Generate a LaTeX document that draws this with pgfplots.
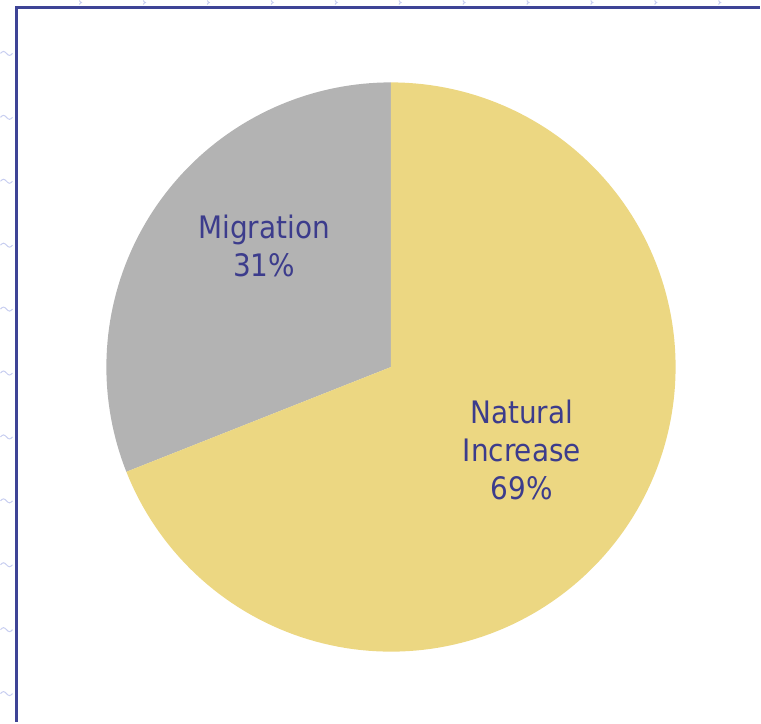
\documentclass[border=0pt]{standalone}
\usepackage{pgfplots}
\usepackage{pgfplotstable}
\pgfplotsset{compat=1.18}
\usepackage{fontspec}
\setmainfont{DejaVu Sans Condensed}
\definecolor{natcol}{RGB}{236,215,130}
\definecolor{migcol}{RGB}{179,179,179}
\definecolor{txtcol}{RGB}{60,60,140}
\definecolor{framecol}{RGB}{62,68,150}
\definecolor{wavecol}{RGB}{200,206,240}
\pgfplotstableread{
label value
Migration 31
Natural 69
}\piedata
\pgfplotstablegetelem{0}{value}\of\piedata \let\migval\pgfplotsretval
\pgfplotstablegetelem{1}{value}\of\piedata \let\natval\pgfplotsretval
\pgfmathsetmacro{\aA}{90}
\pgfmathsetmacro{\aB}{90+3.6*\migval}
\pgfmathsetmacro{\aC}{\aB+3.6*\natval}
\begin{document}
\begin{tikzpicture}
\begin{axis}[
  width=761pt, height=722pt, scale only axis,
  xmin=0, xmax=761, ymin=0, ymax=722,
  hide axis, clip=false,
]
% pie slices
\addplot[fill=migcol, draw=none, domain=\aA:\aB, samples=80]
  ({392+285*cos(x)},{355+285*sin(x)}) -- (axis cs:392,355) -- cycle;
\addplot[fill=natcol, draw=none, domain=\aB:\aC, samples=160]
  ({392+285*cos(x)},{355+285*sin(x)}) -- (axis cs:392,355) -- cycle;
% labels
\node[txtcol, font=\fontsize{31}{38}\selectfont, align=center] at (axis cs:265,476) {Migration\\31\%};
\node[txtcol, font=\fontsize{31}{38}\selectfont, align=center] at (axis cs:523,272) {Natural\\Increase\\69\%};
% frame
\draw[framecol, line width=3pt] (axis cs:17,0) -- (axis cs:17,715) -- (axis cs:761,715);
% faint wavy marks
\pgfplotsinvokeforeach{53,117,181,245,309,373,437,501,565,630,694}{
  \draw[wavecol, line width=1pt] (axis cs:1,722-#1) sin (axis cs:4,724-#1) cos (axis cs:7,722-#1) sin (axis cs:10,720-#1) cos (axis cs:13,722-#1);
}
\pgfplotsinvokeforeach{80,144,208,272,336,400,464,528,592,656,720}{
  \draw[wavecol, line width=1pt] (axis cs:#1,722) sin (axis cs:#1+2,720) cos (axis cs:#1,718);
}
\end{axis}
\end{tikzpicture}
\end{document}
